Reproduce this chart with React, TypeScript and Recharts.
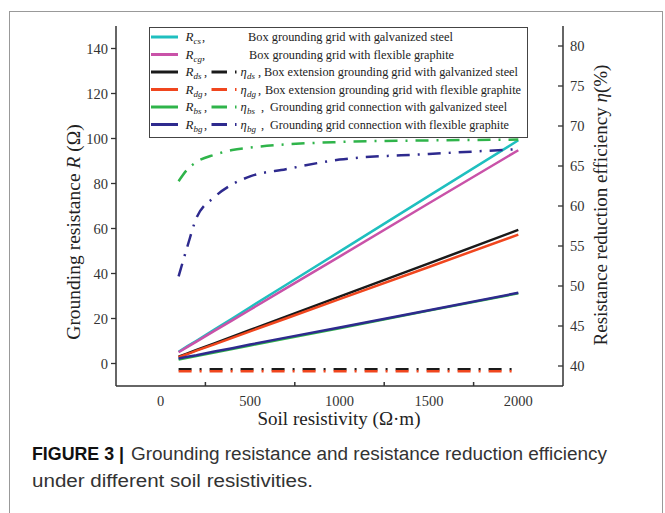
import { ComposedChart, Line, XAxis, YAxis, Legend } from 'recharts';

// soil resistivity (Ω·m)
const resistivity = [100, 150, 200, 300, 400, 500, 700, 1000, 1500, 2000];

// grounding resistance R (Ω)
const rCs = [5.2, 7.7, 10.1, 15.1, 20.0, 25.0, 34.9, 49.7, 74.5, 99.2];
const rCg = [5.0, 7.4, 9.7, 14.5, 19.2, 23.9, 33.4, 47.5, 71.2, 94.8];
const rDs = [3.0, 4.5, 6.0, 8.9, 11.9, 14.9, 20.8, 29.7, 44.5, 59.4];
const rDg = [2.8, 4.2, 5.7, 8.5, 11.4, 14.3, 20.0, 28.6, 42.9, 57.3];
const rBs = [1.8, 2.6, 3.3, 4.9, 6.4, 8.0, 11.1, 15.7, 23.5, 31.2];
const rBg = [2.2, 3.0, 3.7, 5.3, 6.8, 8.4, 11.5, 16.0, 23.7, 31.4];

// resistance reduction efficiency η (%)
const etaDs = [39.6, 39.6, 39.6, 39.6, 39.6, 39.6, 39.6, 39.6, 39.6, 39.6];
const etaDg = [39.35, 39.35, 39.35, 39.35, 39.35, 39.35, 39.35, 39.35, 39.35, 39.35];
const etaBs = [63.1, 64.6, 65.5, 66.4, 67.0, 67.3, 67.7, 68.0, 68.2, 68.3];
const etaBg = [51.2, 55.0, 58.5, 61.1, 62.7, 63.7, 64.6, 65.8, 66.5, 67.1];

const xTicks = [0, 250, 500, 750, 1000, 1250, 1500, 1750, 2000];
const rTicks = [0, 20, 40, 60, 80, 100, 120, 140];
const etaTicks = [40, 45, 50, 55, 60, 65, 70, 75, 80];

const C = {
  cs: '#1fbfbf',
  cg: '#c952a8',
  ds: '#1a1a1a',
  dg: '#f0461e',
  bs: '#2fb44a',
  bg: '#2e2a8e',
};

const serif = '"Liberation Serif", "Times New Roman", serif';
const sans = '"Liberation Sans", Arial, sans-serif';
const dashDot = '13 8 2 8';

const data = resistivity.map((x, i) => ({
  x,
  rCs: rCs[i], rCg: rCg[i], rDs: rDs[i], rDg: rDg[i], rBs: rBs[i], rBg: rBg[i],
  etaDs: etaDs[i], etaDg: etaDg[i], etaBs: etaBs[i], etaBg: etaBg[i],
}));

function XTick(props: any) {
  const { x, y, payload } = props;
  if (payload.value % 500 === 0) {
    return (
      <text x={x} y={y + 20} textAnchor="middle" fontFamily={serif} fontSize={14.5} fill="#333">
        {payload.value}
      </text>
    );
  }
  return <line x1={x} x2={x} y1={y} y2={y - 4} stroke="#333" strokeWidth={1.5} />;
}

function EtaTick(props: any) {
  const { x, y, payload } = props;
  return (
    <g>
      <line x1={x} x2={x - 5} y1={y} y2={y} stroke="#333" strokeWidth={1.3} />
      <text x={x + 7} y={y + 5} fontFamily={serif} fontSize={14.5} fill="#333">
        {payload.value}
      </text>
    </g>
  );
}

const rows = [
  { c: C.cs, r: 'cs', e: null, text: 'Box grounding grid with galvanized steel', tx: 99, tl: 205 },
  { c: C.cg, r: 'cg', e: null, text: 'Box grounding grid with flexible graphite', tx: 100, tl: 205 },
  { c: C.ds, r: 'ds', e: 'ds', text: 'Box extension grounding grid with galvanized steel', tx: 115, tl: 254 },
  { c: C.dg, r: 'dg', e: 'dg', text: 'Box extension grounding grid with flexible graphite', tx: 116, tl: 256 },
  { c: C.bs, r: 'bs', e: 'bs', text: 'Grounding grid connection with galvanized steel', tx: 121, tl: 237 },
  { c: C.bg, r: 'bg', e: 'bg', text: 'Grounding grid connection with flexible graphite', tx: 121, tl: 239 },
];

function LegendBox() {
  return (
    <svg width={379} height={111} style={{ display: 'block' }}>
      <rect x={0.5} y={0.5} width={378} height={110} fill="#fff" stroke="#444" strokeWidth={1} />
      {rows.map((row, i) => {
        const cy = 10 + i * 17.5;
        const by = cy + 4;
        return (
          <g key={row.r} fontFamily={serif} fill="#222">
            <line x1={2} x2={29} y1={cy} y2={cy} stroke={row.c} strokeWidth={3} />
            <text x={36.5} y={by} fontSize={13} fontStyle="italic">R</text>
            <text x={44.5} y={by + 3} fontSize={9} fontStyle="italic">{row.r}</text>
            {row.e ? (
              <>
                <text x={55} y={by} fontSize={12.5}>,</text>
                <line x1={62.5} x2={78} y1={cy} y2={cy} stroke={row.c} strokeWidth={3} />
                <line x1={86} x2={87.5} y1={cy} y2={cy} stroke={row.c} strokeWidth={3} />
                <text x={91.5} y={by} fontSize={12.5} fontStyle="italic">η</text>
                <text x={98} y={by + 3} fontSize={9} fontStyle="italic">{row.e}</text>
                <text x={i < 4 ? 109 : 112} y={by} fontSize={12.5}>,</text>
              </>
            ) : (
              <text x={53} y={by} fontSize={12.5}>,</text>
            )}
            <text x={row.tx} y={by} fontSize={12.5} textLength={row.tl} lengthAdjust="spacingAndGlyphs">
              {row.text}
            </text>
          </g>
        );
      })}
    </svg>
  );
}

export default function App() {
  return (
    <div style={{ position: 'absolute', left: 0, top: 0, width: 665, height: 513, background: '#fff' }}>
      <ComposedChart
        width={665}
        height={513}
        data={data}
        margin={{ top: 26, right: 42, bottom: 97, left: 56 }}
      >
        <XAxis
          dataKey="x"
          type="number"
          domain={[-250, 2250]}
          ticks={xTicks}
          interval={0}
          tickLine={false}
          tickSize={0}
          tickMargin={0}
          tick={<XTick />}
          axisLine={{ stroke: '#333', strokeWidth: 1.5 }}
          height={30}
        />
        <YAxis
          yAxisId="r"
          type="number"
          domain={[-10, 150]}
          ticks={rTicks}
          interval={0}
          width={60}
          tickSize={5}
          tickMargin={3}
          tick={{ fontFamily: serif, fontSize: 14.5, fill: '#333' }}
          tickLine={{ stroke: '#333', strokeWidth: 1.3 }}
          axisLine={{ stroke: '#333', strokeWidth: 1.5 }}
        />
        <YAxis
          yAxisId="eta"
          orientation="right"
          type="number"
          domain={[37.5, 82.5]}
          ticks={etaTicks}
          interval={0}
          width={60}
          tickLine={false}
          tickSize={0}
          tickMargin={0}
          tick={<EtaTick />}
          axisLine={{ stroke: '#333', strokeWidth: 1.5 }}
        />
        <Legend
          layout="vertical"
          align="center"
          verticalAlign="middle"
          content={() => <LegendBox />}
          wrapperStyle={{ position: 'absolute', left: 149, top: 27, width: 379, height: 111 }}
        />
        <Line yAxisId="r" dataKey="rCs" stroke={C.cs} strokeWidth={2.5} dot={false} isAnimationActive={false} />
        <Line yAxisId="r" dataKey="rCg" stroke={C.cg} strokeWidth={2.5} dot={false} isAnimationActive={false} />
        <Line yAxisId="r" dataKey="rDs" stroke={C.ds} strokeWidth={2.5} dot={false} isAnimationActive={false} />
        <Line yAxisId="eta" dataKey="etaDs" stroke={C.ds} strokeWidth={2.5} strokeDasharray={dashDot} dot={false} isAnimationActive={false} />
        <Line yAxisId="r" dataKey="rDg" stroke={C.dg} strokeWidth={2.5} dot={false} isAnimationActive={false} />
        <Line yAxisId="eta" dataKey="etaDg" stroke={C.dg} strokeWidth={2.5} strokeDasharray={dashDot} dot={false} isAnimationActive={false} />
        <Line yAxisId="r" dataKey="rBs" stroke={C.bs} strokeWidth={2.5} dot={false} isAnimationActive={false} />
        <Line yAxisId="eta" type="monotone" dataKey="etaBs" stroke={C.bs} strokeWidth={2.5} strokeDasharray={dashDot} dot={false} isAnimationActive={false} />
        <Line yAxisId="r" dataKey="rBg" stroke={C.bg} strokeWidth={2.5} dot={false} isAnimationActive={false} />
        <Line yAxisId="eta" type="monotone" dataKey="etaBg" stroke={C.bg} strokeWidth={2.5} strokeDasharray={dashDot} dot={false} isAnimationActive={false} />
      </ComposedChart>

      <svg
        width={665}
        height={513}
        style={{ position: 'absolute', left: 0, top: 0, pointerEvents: 'none' }}
      >
        <rect x={9.5} y={11.5} width={653} height={520} fill="none" stroke="#999" strokeWidth={1} />
        <text
          transform="translate(80 232) rotate(-90)"
          textAnchor="middle"
          fontFamily={serif}
          fontSize={19.5}
          fill="#222"
        >
          Grounding resistance <tspan fontStyle="italic">R</tspan> (Ω)
        </text>
        <text
          transform="translate(607 205) rotate(-90)"
          textAnchor="middle"
          fontFamily={serif}
          fontSize={19}
          fill="#222"
        >
          Resistance reduction efficiency <tspan fontStyle="italic">η</tspan>(%)
        </text>
        <text x={339} y={425} textAnchor="middle" fontFamily={serif} fontSize={19} fill="#222">
          Soil resistivity (Ω·m)
        </text>
        <text x={32} y={460} fontFamily={sans} fontSize={18} fontWeight="bold" fill="#111" textLength={92} lengthAdjust="spacingAndGlyphs">
          FIGURE 3 |
        </text>
        <text x={131} y={460} fontFamily={sans} fontSize={18} fill="#333" textLength={476} lengthAdjust="spacingAndGlyphs">
          Grounding resistance and resistance reduction efficiency
        </text>
        <text x={32} y={487} fontFamily={sans} fontSize={18} fill="#333" textLength={281} lengthAdjust="spacingAndGlyphs">
          under different soil resistivities.
        </text>
      </svg>
    </div>
  );
}
